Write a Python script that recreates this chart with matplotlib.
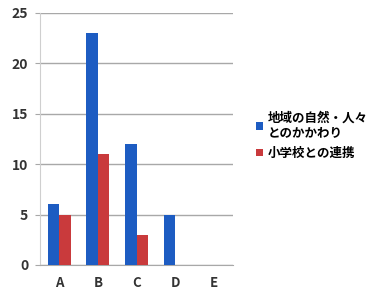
import matplotlib.pyplot as plt
import numpy as np

plt.rcParams['font.family'] = ['Noto Sans CJK JP', 'DejaVu Sans']

# data
categories = ['A', 'B', 'C', 'D', 'E']
series_names = ['地域の自然・人々\nとのかかわり', '小学校との連携']
nature_people = [6, 23, 12, 5, 0]
school_link = [5, 11, 3, 0, 0]
colors = ['#1d5cc2', '#c93a3c']

fig = plt.figure(figsize=(3.74, 2.99), dpi=100)
ax = fig.add_axes([0.107, 0.114, 0.516, 0.843])

x = np.arange(len(categories))
w = 0.3
ax.bar(x - w / 2, nature_people, w, color=colors[0], label=series_names[0], zorder=3)
ax.bar(x + w / 2, school_link, w, color=colors[1], label=series_names[1], zorder=3)

ax.set_xlim(-0.5, len(categories) - 0.5)
ax.set_ylim(0, 25)
ax.set_yticks(range(0, 26, 5))
ax.set_xticks(x)
ax.set_xticklabels(categories)
ax.yaxis.grid(True, color='#a8a8a8', linewidth=1.0, zorder=0)
ax.tick_params(axis='y', length=3.5, color='#a8a8a8', labelsize=10, pad=5)
ax.tick_params(axis='x', length=0, labelsize=9.5, pad=8)
for lbl in ax.get_yticklabels() + ax.get_xticklabels():
    lbl.set_fontweight('bold')
    lbl.set_color('#333333')
for s in ['top', 'right']:
    ax.spines[s].set_visible(False)
ax.spines['left'].set_color('#cfcfcf')
ax.spines['bottom'].set_color('#a8a8a8')

leg = fig.legend(loc='upper left', bbox_to_anchor=(0.655, 0.665), frameon=False,
                 handlelength=0.55, handleheight=0.55, handletextpad=0.35,
                 labelspacing=0.6, prop={'size': 9, 'weight': 'bold'})

fig.savefig('out.png', dpi=100)
